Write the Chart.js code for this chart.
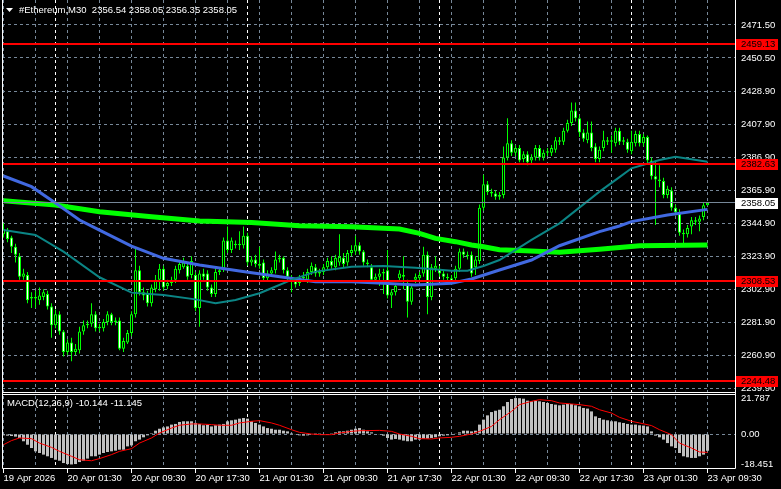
<!DOCTYPE html>
<html>
<head>
<meta charset="utf-8">
<script src="https://cdn.jsdelivr.net/npm/chart.js@4.4.1/dist/chart.umd.min.js"></script>
<style>
  html, body { margin: 0; padding: 0; background: #000; }
  canvas { display: block; }
</style>
</head>
<body>
<canvas id="myChart" width="781" height="489"></canvas>
<script>
'use strict';
// M30 bars, 19 Apr 17:30 .. 23 Apr 09:30
let barOpen = [
  2338,2340,2336,2330,2324,2311,2312,2297,2298,2296,
  2298,2300,2292,2280,2287,2276,2263,2269,2263,2264,
  2276,2280,2281,2287,2278,2278,2282,2287,2282,2283,
  2265,2269,2275,2287,2315,2301,2300,2294,2303,2309,
  2316,2305,2307,2309,2315,2317,2318,2312,2312,2291,
  2313,2313,2304,2300,2314,2316,2334,2328,2332,2331,
  2331,2337,2320,2322,2319,2320,2310,2313,2315,2322,
  2323,2315,2311,2308,2307,2310,2309,2314,2317,2313,
  2314,2317,2321,2317,2320,2323,2320,2326,2327,2331,
  2327,2320,2317,2309,2311,2313,2315,2299,2301,2310,
  2311,2307,2295,2309,2310,2313,2325,2298,2316,2316,
  2313,2311,2310,2310,2316,2327,2325,2325,2317,2321,
  2355,2370,2365,2364,2362,2363,2387,2396,2390,2393,
  2386,2389,2385,2387,2393,2387,2390,2390,2392,2398,
  2397,2404,2409,2417,2412,2403,2398,2403,2394,2386,
  2393,2398,2397,2396,2404,2397,2397,2391,2396,2402,
  2396,2400,2385,2375,2373,2372,2363,2366,2355,2352,
  2339,2338,2343,2347,2346,2349,2356.54
];
let barHigh = [
  2345,2342,2337,2332,2326,2316,2314,2301,2302,2304,
  2303,2302,2294,2290,2289,2277,2271,2272,2268,2279,
  2283,2283,2294,2289,2281,2284,2289,2288,2285,2285,
  2272,2277,2289,2329,2318,2304,2302,2306,2312,2319,
  2318,2309,2311,2318,2321,2323,2320,2324,2314,2315,
  2316,2315,2306,2316,2317,2336,2343,2336,2334,2340,
  2343,2339,2324,2325,2330,2322,2315,2317,2327,2325,
  2324,2317,2312,2310,2312,2314,2316,2320,2319,2316,
  2319,2323,2324,2325,2338,2326,2328,2331,2337,2333,
  2328,2322,2319,2313,2316,2316,2328,2303,2307,2315,
  2324,2309,2306,2313,2314,2330,2327,2319,2324,2318,
  2315,2313,2312,2318,2329,2329,2327,2327,2324,2357,
  2376,2372,2367,2366,2365,2394,2412,2398,2395,2395,
  2391,2391,2389,2395,2395,2392,2393,2395,2400,2400,
  2406,2411,2422,2422,2414,2405,2410,2410,2396,2394,
  2404,2400,2401,2406,2406,2400,2399,2404,2404,2404,
  2402,2401,2387,2385,2382,2374,2369,2368,2357,2354,
  2341,2344,2349,2349,2350,2358,2358.05
];
let barLow = [
  2336,2333,2326,2320,2309,2309,2294,2291,2291,2293,
  2296,2290,2272,2278,2274,2260,2261,2257,2261,2262,
  2274,2278,2279,2276,2276,2276,2280,2280,2280,2264,
  2263,2268,2273,2285,2299,2296,2292,2292,2301,2302,
  2302,2303,2305,2307,2313,2316,2309,2310,2289,2279,
  2309,2302,2298,2298,2312,2314,2326,2326,2329,2328,
  2329,2318,2318,2317,2316,2308,2308,2312,2313,2320,
  2313,2309,2301,2304,2305,2308,2307,2312,2311,2311,
  2312,2315,2316,2315,2318,2317,2318,2324,2325,2325,
  2318,2317,2307,2307,2305,2300,2297,2291,2299,2308,
  2303,2285,2293,2307,2308,2311,2287,2296,2314,2311,
  2309,2308,2306,2308,2314,2323,2322,2311,2312,2319,
  2353,2363,2362,2360,2360,2361,2385,2388,2388,2384,
  2384,2382,2383,2385,2385,2385,2388,2388,2390,2395,
  2395,2403,2407,2410,2400,2397,2396,2391,2384,2384,
  2391,2395,2390,2394,2395,2395,2390,2389,2394,2394,
  2394,2383,2373,2344,2368,2361,2361,2353,2350,2337,
  2332,2336,2338,2344,2340,2347,2356.35
];
let barClose = [
  2341,2335,2330,2325,2311,2313,2296,2298,2297,2299,
  2301,2292,2280,2287,2276,2263,2269,2263,2265,2276,
  2280,2281,2287,2278,2279,2282,2287,2282,2283,2265,
  2270,2275,2287,2315,2301,2299,2294,2304,2309,2316,
  2304,2307,2309,2316,2319,2320,2311,2321,2291,2313,
  2311,2304,2300,2314,2315,2334,2328,2334,2331,2332,
  2337,2320,2322,2319,2318,2310,2313,2315,2322,2323,
  2315,2311,2308,2306,2310,2311,2314,2318,2313,2314,
  2317,2321,2318,2323,2323.5,2319,2326,2328,2331,2327,
  2320,2319,2309,2311,2313,2314,2299,2301,2305,2313,
  2312,2295,2304,2311,2312,2325,2298,2317,2318,2313,
  2311,2310,2308,2316,2327,2325,2324,2313,2322,2355,
  2370,2365,2364,2362,2363,2387,2396,2390,2393,2385,
  2389,2384,2387,2393,2387,2390,2391,2393,2398,2397,
  2404,2409,2417,2412,2403,2399,2403,2393,2386,2392,
  2398,2397,2398,2404,2397,2398,2392,2397,2402,2396,
  2400,2385,2375,2373,2372,2363,2367,2355,2352,2339,
  2338,2342,2347,2346,2348,2356.5,2358.05
];

let macdHist = [
  -0.8,-1.0,-1.2,-1.6,-2.4,-4.4,-6.5,-8.5,-10.5,-11.5,
  -12.5,-13.5,-14.5,-15.6,-16.2,-17.6,-18.2,-18.451,-18.2,-17.0,
  -16.2,-14.9,-13.5,-13.5,-12.5,-11.5,-10.9,-10.5,-10.1,-9.5,
  -9.5,-7.5,-6.9,-4.4,-3.4,-2.0,-0.8,0.6,2.0,3.2,
  4.0,4.6,5.7,6.1,7.3,7.7,7.7,7.7,6.7,6.1,
  5.3,5.7,4.6,5.3,5.7,6.1,7.7,8.3,8.7,9.3,
  9.7,9.3,7.7,6.7,5.7,4.6,3.6,3.2,2.6,2.6,
  2.0,1.6,0.6,-0.4,-0.8,-1.0,-0.8,-0.4,0.1,0.1,
  -0.4,-0.4,0.1,1.0,1.6,1.6,2.0,2.6,3.2,3.6,
  2.6,1.6,1.0,0.0,-0.4,-1.0,-2.4,-3.4,-3.0,-3.4,
  -4.0,-4.4,-4.4,-3.4,-3.4,-2.8,-2.8,-2.4,-2.0,-1.4,
  -1.0,-0.8,-0.4,0.2,1.0,2.0,2.0,1.6,2.0,5.7,
  8.7,11.3,13.3,14.1,14.7,16.8,19.4,21.2,21.787,21.7,
  21.4,20.2,19.8,20.2,19.8,19.4,18.8,18.2,17.8,17.4,
  17.8,18.2,18.2,17.4,16.8,15.8,15.4,13.7,10.7,9.7,
  8.7,8.3,7.7,7.7,7.1,6.7,6.1,5.7,5.7,5.3,
  5.1,4.6,1.6,-1.0,-2.0,-3.4,-5.5,-7.5,-8.5,-11.5,
  -13.5,-14.1,-14.5,-14.5,-13.5,-12.5,-10.144
];
let signalBars = [0,2,4,7,9,12,14,17,19,22,24,27,29,32,34,37,39,42,44,47,49,52,54,57,59,62,64,67,69,72,74,77,79,82,84,87,89,94,97,99,102,104,107,109,112,114,117,119,122,124,127,129,132,134,137,139,142,144,147,149,152,154,157,159,162,164,167,169,172,174,176];
let signalVals = [-6.5,-4.0,-2.4,-2.8,-5.5,-8.1,-10.5,-13.5,-15.6,-16.2,-14.9,-12.5,-10.5,-8.9,-5.5,-2.4,0.6,3.6,5.3,6.1,6.1,5.7,5.3,5.3,6.7,7.7,8.1,6.7,5.3,2.6,1.0,0,-0.4,-0.4,0.6,1.6,2.0,2.2,1.6,0,-1.4,-2.8,-3.0,-2.4,-2.0,-1.4,0,1.6,4.6,8.7,13.7,17.8,19.8,20.8,20.2,18.8,18.2,17.8,16.8,14.7,12.7,10.1,7.7,6.7,5.1,2.6,-0.4,-5.5,-8.5,-10.9,-11.145];

let maGreenBars = [0,13,24,37,49,62,74,87,99,104,108,113,117,120,124,129,139,149,159,176];
let maGreenVals = [2359.4,2356.7,2352.4,2349.2,2346.5,2345.6,2343.5,2342.8,2341.4,2338.6,2335.4,2333.3,2331.2,2330.1,2328.2,2327.6,2326.5,2328.4,2330.7,2331.2];
let maBlueBars = [0,7,13,19,24,32,40,49,59,70,78,87,95,103,112,117,124,132,139,149,154,157,166,176];
let maBlueVals = [2375.2,2368.4,2358.0,2347.1,2340.7,2330.5,2322.7,2318.4,2314.6,2310.6,2307.8,2307.8,2306.8,2305.7,2306.8,2309.5,2315.2,2321.6,2330.7,2339.7,2343.3,2346.1,2350.3,2353.9];
let maTealBars = [0,8,15,24,32,40,48,53,58,64,67,72,78,87,95,103,112,116,120,124,132,139,149,154,157,164,168,176];
let maTealVals = [2340.7,2337.6,2326.9,2310.6,2300.8,2299.3,2296.5,2294.0,2296.1,2300.4,2303.6,2308.9,2314.2,2317.3,2317.8,2316.7,2314.8,2314.8,2317.8,2321.6,2334.4,2345.0,2365.2,2374.5,2380.1,2385.4,2387.5,2384.3];

let levels = [2459.13, 2382.63, 2308.53, 2244.48];
let bidPrice = 2358.05;
let priceTicks = [2471.5,2450.5,2428.9,2407.9,2386.9,2365.9,2344.9,2323.9,2302.9,2281.9,2260.9,2239.9];
let macdTicks = [21.787, 0, -18.451];
let timeLabels = ['19 Apr 2026','20 Apr 01:30','20 Apr 09:30','20 Apr 17:30','21 Apr 01:30','21 Apr 09:30','21 Apr 17:30','22 Apr 01:30','22 Apr 09:30','22 Apr 17:30','23 Apr 01:30','23 Apr 09:30'];
let daySeps = [13, 61, 109, 157];

let gridColor = '#778899';
let lime = '#00ff00';
let txtFont = '9.5px "Liberation Sans", Arial, sans-serif';
let clear = 'rgba(0,0,0,0)';

let gridBars = [];
for (let b = 0; b <= 176; b += 8) { gridBars.push(b); }

function labelAt(v) {
    let k = v / 16;
    return Number.isInteger(k) && timeLabels[k] ? timeLabels[k] : '';
}

function pts(bars, vals) {
    return bars.map((b, k) => ({ x: b, y: vals[k] }));
}

function fitRight(s) {
    s.width = 46;
    s.paddingTop = 0;
    s.paddingBottom = 0;
}

let overlay = {
    id: 'overlay',
    beforeDatasetsDraw(chart) {
        let ctx = chart.ctx;
        let xs = chart.scales.x;
        let area = chart.chartArea;
        ctx.save();
        ctx.strokeStyle = '#ffffff';
        ctx.lineWidth = 1;
        ctx.setLineDash([3, 3]);
        for (let i = 0; i < daySeps.length; i++) {
            let px = Math.floor(xs.getPixelForValue(daySeps[i])) + 0.5;
            ctx.beginPath();
            ctx.moveTo(px, area.top);
            ctx.lineTo(px, area.bottom);
            ctx.stroke();
        }
        ctx.restore();
    },
    afterDatasetsDraw(chart) {
        let ctx = chart.ctx;
        let ys = chart.scales.y;
        let area = chart.chartArea;
        let L = area.left + 0.5, R = area.right + 0.5;
        ctx.save();

        ctx.fillStyle = '#ff0000';
        levels.forEach(l => {
            let py = Math.round(ys.getPixelForValue(l));
            ctx.fillRect(area.left, py - 1, area.right - area.left, 2);
        });
        let by = Math.floor(ys.getPixelForValue(bidPrice)) + 0.5;
        ctx.strokeStyle = gridColor;
        ctx.lineWidth = 1;
        ctx.beginPath(); ctx.moveTo(area.left, by); ctx.lineTo(area.right, by); ctx.stroke();

        // window frames
        let split = ys.bottom;
        ctx.strokeStyle = '#ffffff';
        ctx.beginPath();
        ctx.moveTo(L, 0); ctx.lineTo(L, area.bottom + 0.5);
        ctx.moveTo(R, 0); ctx.lineTo(R, area.bottom + 0.5);
        ctx.moveTo(L, split - 0.5); ctx.lineTo(R, split - 0.5);
        ctx.moveTo(L, split + 1.5); ctx.lineTo(R, split + 1.5);
        ctx.moveTo(L, area.bottom + 0.5); ctx.lineTo(R, area.bottom + 0.5);
        ctx.stroke();

        ctx.font = txtFont;
        ctx.textBaseline = 'middle';
        ctx.textAlign = 'left';
        levels.forEach(l => {
            let py = Math.round(ys.getPixelForValue(l));
            ctx.fillStyle = '#ff0000';
            ctx.fillRect(area.right + 1, py - 5, 42, 11);
            ctx.fillStyle = '#000000';
            ctx.fillText(l.toFixed(2), area.right + 6, py + 0.5);
        });
        let bp = Math.round(ys.getPixelForValue(bidPrice));
        ctx.fillStyle = '#ffffff';
        ctx.fillRect(area.right + 1, bp - 5, 42, 11);
        ctx.fillStyle = '#000000';
        ctx.fillText(bidPrice.toFixed(2), area.right + 6, bp + 0.5);

        ctx.fillStyle = '#ffffff';
        ctx.beginPath();
        ctx.moveTo(6, 8); ctx.lineTo(13, 8); ctx.lineTo(9.5, 12); ctx.closePath();
        ctx.fill();
        let n = barClose.length - 1;
        let ohlc = [barOpen[n], barHigh[n], barLow[n], barClose[n]].map(v => v.toFixed(2)).join(' ');
        ctx.fillText('#Ethereum,M30  ' + ohlc, 19, 10);
        ctx.fillText('MACD(12,26,9) ' + macdHist[n].toFixed(3) + ' ' + signalVals[signalVals.length - 1].toFixed(3), 7, 403);
        ctx.restore();
    }
};

let ctx = document.getElementById('myChart').getContext('2d');
let myChart = new Chart(ctx, {
    type: 'bar',
    data: {
        datasets: [
            {
                type: 'line', label: 'signal', yAxisID: 'y2', order: 0,
                data: pts(signalBars, signalVals),
                borderColor: '#ff0000', borderWidth: 1, pointRadius: 0, tension: 0
            },
            {
                type: 'line', label: 'ma teal', yAxisID: 'y', order: 1,
                data: pts(maTealBars, maTealVals),
                borderColor: '#0b8585', borderWidth: 2, pointRadius: 0, tension: 0
            },
            {
                type: 'line', label: 'ma blue', yAxisID: 'y', order: 2,
                data: pts(maBlueBars, maBlueVals),
                borderColor: '#4169e1', borderWidth: 3, pointRadius: 0, tension: 0
            },
            {
                type: 'line', label: 'ma green', yAxisID: 'y', order: 3,
                data: pts(maGreenBars, maGreenVals),
                borderColor: lime, borderWidth: 5, pointRadius: 0, tension: 0
            },
            {
                label: 'body', yAxisID: 'y', order: 4,
                data: barOpen.map((o, i) => ({ x: i, y: [o, barClose[i]] })),
                backgroundColor: barOpen.map((o, i) => barClose[i] >= o ? '#000000' : '#ffffff'),
                borderColor: lime, borderWidth: 1, borderSkipped: false,
                barThickness: 3, grouped: false, minBarLength: 1, inflateAmount: 0
            },
            {
                label: 'wick', yAxisID: 'y', order: 5,
                data: barLow.map((l, i) => ({ x: i, y: [l, barHigh[i]] })),
                backgroundColor: lime, borderWidth: 0,
                barThickness: 1, grouped: false, inflateAmount: 0
            },
            {
                label: 'macd', yAxisID: 'y2', order: 6,
                data: macdHist.map((v, i) => ({ x: i, y: v })),
                backgroundColor: '#c0c0c0', borderWidth: 0,
                barThickness: 3, grouped: false, inflateAmount: 0
            }
        ]
    },
    options: {
        responsive: false,
        animation: false,
        events: [],
        layout: { padding: { left: 2, top: 0, right: 0, bottom: 0 } },
        plugins: { legend: { display: false }, tooltip: { enabled: false } },
        scales: {
            y: {
                position: 'right', stack: 'panes', stackWeight: 393,
                min: 2236.78, max: 2487.44,
                afterBuildTicks: s => { s.ticks = priceTicks.map(v => ({ value: v })); },
                afterFit: fitRight,
                ticks: { color: '#ffffff', font: { family: 'Liberation Sans', size: 9.5 }, padding: 6, callback: v => v.toFixed(2) },
                grid: { color: gridColor, drawTicks: false },
                border: { display: false, dash: [3, 3] }
            },
            y2: {
                position: 'right', stack: 'panes', stackWeight: 75,
                min: -20.6, max: 24.85,
                afterBuildTicks: s => { s.ticks = macdTicks.map(v => ({ value: v })); },
                afterFit: fitRight,
                ticks: { color: '#ffffff', font: { family: 'Liberation Sans', size: 9.5 }, padding: 6, callback: v => v === 0 ? '0.00' : v.toFixed(3) },
                grid: { color: c => c.tick && c.tick.value === 0 ? gridColor : clear, drawTicks: false },
                border: { display: false, dash: [3, 3] }
            },
            x: {
                type: 'linear', position: 'bottom', min: -0.375, max: 182.875,
                offset: false,
                afterBuildTicks: s => { s.ticks = gridBars.map(v => ({ value: v })); },
                afterFit: s => { s.height = 21; s.paddingLeft = 0; s.paddingRight = 0; },
                ticks: { color: '#ffffff', font: { family: 'Liberation Sans', size: 9.5 }, align: 'start', padding: 0, autoSkip: false, maxRotation: 0, minRotation: 0, callback: v => labelAt(v) },
                grid: {
                    offset: false,
                    color: gridColor, tickLength: 5, tickBorderDash: [], tickWidth: 1,
                    tickColor: c => c.tick && labelAt(c.tick.value) ? '#ffffff' : clear
                },
                border: { display: false, dash: [3, 3] }
            }
        }
    },
    plugins: [overlay]
});
</script>
</body>
</html>
